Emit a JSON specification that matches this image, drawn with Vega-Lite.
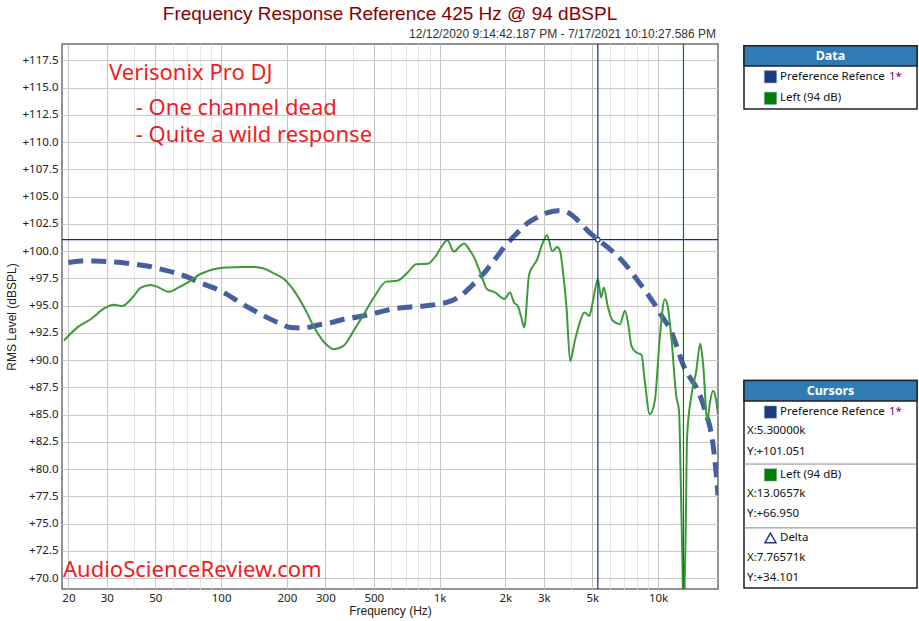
{
  "$schema": "https://vega.github.io/schema/vega-lite/v6.json",
  "background": "white",
  "padding": {"left": 4, "top": 4, "right": 0, "bottom": 0},
  "spacing": 23,
  "config": {"view": {"stroke": null}, "font": "Noto Sans", "axis": {"labelOverlap": false}},
  "datasets": {
    "ref": [
      {"f": 20, "db": 98.95}, {"f": 22.8, "db": 99.1}, {"f": 26, "db": 99.1}, {"f": 30, "db": 99.05},
      {"f": 35, "db": 98.95}, {"f": 40, "db": 98.8}, {"f": 46, "db": 98.64}, {"f": 53, "db": 98.34},
      {"f": 61, "db": 98.03}, {"f": 70, "db": 97.63}, {"f": 80, "db": 97.1}, {"f": 92, "db": 96.65},
      {"f": 106, "db": 96.05}, {"f": 122, "db": 95.28}, {"f": 140, "db": 94.6}, {"f": 157, "db": 94.06},
      {"f": 182, "db": 93.44}, {"f": 208, "db": 93.0}, {"f": 240, "db": 92.95}, {"f": 275, "db": 93.2},
      {"f": 318, "db": 93.44}, {"f": 364, "db": 93.75}, {"f": 420, "db": 93.96}, {"f": 484, "db": 94.21},
      {"f": 558, "db": 94.52}, {"f": 640, "db": 94.76}, {"f": 737, "db": 94.88}, {"f": 850, "db": 94.97},
      {"f": 980, "db": 95.13}, {"f": 1130, "db": 95.43}, {"f": 1250, "db": 95.9}, {"f": 1400, "db": 96.8},
      {"f": 1600, "db": 98.0}, {"f": 1800, "db": 99.3}, {"f": 2000, "db": 100.5}, {"f": 2250, "db": 101.6},
      {"f": 2500, "db": 102.5}, {"f": 2800, "db": 103.1}, {"f": 3100, "db": 103.5}, {"f": 3500, "db": 103.7},
      {"f": 3900, "db": 103.5}, {"f": 4300, "db": 102.8}, {"f": 4800, "db": 101.8}, {"f": 5300, "db": 101.05},
      {"f": 6000, "db": 100.2}, {"f": 7000, "db": 98.9}, {"f": 8060, "db": 97.3}, {"f": 9000, "db": 96.0},
      {"f": 9870, "db": 94.8}, {"f": 10500, "db": 93.9}, {"f": 11450, "db": 92.7}, {"f": 12200, "db": 91.2},
      {"f": 13000, "db": 89.6}, {"f": 14000, "db": 88.4}, {"f": 14950, "db": 87.5}, {"f": 15800, "db": 86.4},
      {"f": 16600, "db": 85.0}, {"f": 17300, "db": 83.8}, {"f": 17830, "db": 82.3}, {"f": 18400, "db": 79.8},
      {"f": 18800, "db": 77.6}
    ],
    "left": [
      {"f": 19.1, "db": 91.8}, {"f": 22.0, "db": 93.0}, {"f": 25.3, "db": 93.75}, {"f": 29.3, "db": 94.76},
      {"f": 32.4, "db": 95.07}, {"f": 35.3, "db": 94.97}, {"f": 39.3, "db": 95.74}, {"f": 42.9, "db": 96.65},
      {"f": 47.6, "db": 96.9}, {"f": 52.0, "db": 96.65}, {"f": 57.6, "db": 96.26}, {"f": 63.1, "db": 96.6},
      {"f": 70.2, "db": 97.1}, {"f": 80.5, "db": 97.9}, {"f": 92.4, "db": 98.34}, {"f": 107, "db": 98.5},
      {"f": 127, "db": 98.55}, {"f": 141, "db": 98.55}, {"f": 157, "db": 98.4}, {"f": 175, "db": 97.94},
      {"f": 195, "db": 97.4}, {"f": 216, "db": 96.35}, {"f": 240, "db": 94.82}, {"f": 267, "db": 93.0},
      {"f": 297, "db": 91.61}, {"f": 328, "db": 91.0}, {"f": 363, "db": 91.31}, {"f": 404, "db": 92.68},
      {"f": 450, "db": 94.21}, {"f": 500, "db": 95.74}, {"f": 570, "db": 97.2}, {"f": 640, "db": 97.27},
      {"f": 714, "db": 98.03}, {"f": 780, "db": 98.8}, {"f": 885, "db": 98.85}, {"f": 961, "db": 99.56},
      {"f": 1020, "db": 100.4}, {"f": 1085, "db": 101.0}, {"f": 1162, "db": 99.95}, {"f": 1244, "db": 100.48},
      {"f": 1295, "db": 100.69}, {"f": 1350, "db": 100.3}, {"f": 1440, "db": 99.4}, {"f": 1550, "db": 97.8},
      {"f": 1650, "db": 96.5}, {"f": 1800, "db": 96.2}, {"f": 1980, "db": 95.6}, {"f": 2100, "db": 96.2},
      {"f": 2190, "db": 95.28}, {"f": 2280, "db": 94.97}, {"f": 2360, "db": 94.0}, {"f": 2440, "db": 93.0},
      {"f": 2570, "db": 97.88}, {"f": 2800, "db": 99.26}, {"f": 2950, "db": 100.63}, {"f": 3100, "db": 101.46},
      {"f": 3280, "db": 100.0}, {"f": 3450, "db": 100.38}, {"f": 3560, "db": 100.0}, {"f": 3680, "db": 97.88},
      {"f": 3810, "db": 94.82}, {"f": 3960, "db": 89.9}, {"f": 4140, "db": 91.6}, {"f": 4360, "db": 93.3},
      {"f": 4600, "db": 94.36}, {"f": 4850, "db": 94.06}, {"f": 5020, "db": 95.28}, {"f": 5300, "db": 97.42},
      {"f": 5490, "db": 95.74}, {"f": 5640, "db": 96.65}, {"f": 5900, "db": 94.82}, {"f": 6200, "db": 93.6},
      {"f": 6690, "db": 93.3}, {"f": 7050, "db": 94.52}, {"f": 7300, "db": 93.3}, {"f": 7550, "db": 91.31},
      {"f": 7960, "db": 90.7}, {"f": 8400, "db": 90.48}, {"f": 8690, "db": 88.1}, {"f": 9160, "db": 85.04},
      {"f": 9660, "db": 86.26}, {"f": 10180, "db": 92.07}, {"f": 10730, "db": 95.59}, {"f": 11090, "db": 94.82},
      {"f": 11500, "db": 92.07}, {"f": 12130, "db": 86.57}, {"f": 12470, "db": 85.35}, {"f": 12670, "db": 79.84},
      {"f": 12940, "db": 70.7}, {"f": 13065.7, "db": 66.95}, {"f": 13360, "db": 73.7}, {"f": 13570, "db": 82.9},
      {"f": 14160, "db": 86.57}, {"f": 14950, "db": 89.0}, {"f": 15600, "db": 91.5}, {"f": 16070, "db": 89.63},
      {"f": 16810, "db": 84.43}, {"f": 17230, "db": 85.96}, {"f": 17830, "db": 87.18}, {"f": 18340, "db": 86.57},
      {"f": 18800, "db": 85.04}
    ],
    "cursors": [
      {"series": "Preference Refence", "f": 5300, "db": 101.051},
      {"series": "Left (94 dB)", "f": 13065.7, "db": 66.95}
    ],
    "notes": [
      {"f": 30.7, "db": 115.67, "text": "Verisonix Pro DJ"},
      {"f": 40.7, "db": 112.49, "text": "- One channel dead"},
      {"f": 40.7, "db": 109.97, "text": "- Quite a wild response"},
      {"f": 18.9, "db": 70.12, "text": "AudioScienceReview.com"}
    ],
    "stamp": [
      {"f": 18800, "db": 119.55, "text": "12/12/2020 9:14:42.187 PM - 7/17/2021 10:10:27.586 PM"}
    ],
    "boxes": [
      {"box": "Data", "top": 0.08, "head": 1.03, "bottom": 3.05},
      {"box": "Cursors", "top": 15.81, "head": 16.77, "bottom": 25.55}
    ],
    "seps": [{"slot": 19.73}, {"slot": 22.73}],
    "swatches": [
      {"series": "Preference Refence", "slot": 1.54},
      {"series": "Left (94 dB)", "slot": 2.55},
      {"series": "Preference Refence", "slot": 17.29},
      {"series": "Left (94 dB)", "slot": 20.24}
    ],
    "labels": [
      {"slot": 1.54, "text": "Preference Refence"},
      {"slot": 2.55, "text": "Left (94 dB)"},
      {"slot": 17.29, "text": "Preference Refence"},
      {"slot": 20.24, "text": "Left (94 dB)"},
      {"slot": 23.2, "text": "Delta"}
    ],
    "stars": [{"slot": 1.54, "text": "1*"}, {"slot": 17.29, "text": "1*"}],
    "values": [
      {"slot": 18.18, "text": "X:5.30000k"},
      {"slot": 19.16, "text": "Y:+101.051"},
      {"slot": 21.14, "text": "X:13.0657k"},
      {"slot": 22.08, "text": "Y:+66.950"},
      {"slot": 24.14, "text": "X:7.76571k"},
      {"slot": 25.08, "text": "Y:+34.101"}
    ],
    "delta": [{"slot": 23.2}]
  },
  "hconcat": [
    {
      "width": 656,
      "height": 545,
      "view": {"stroke": "#6e6e6e", "strokeWidth": 1.5},
      "title": {"text": "Frequency Response Reference 425 Hz @ 94 dBSPL", "color": "#850000", "font": "Liberation Sans", "fontSize": 19, "fontWeight": "normal", "anchor": "middle", "frame": "group", "offset": 4},
      "layer": [
        {
          "data": {"name": "ref"},
          "mark": {"type": "line", "strokeDash": [15, 8], "strokeWidth": 5, "color": "#46609f", "interpolate": "monotone", "clip": true},
          "encoding": {
            "x": {"field": "f", "type": "quantitative", "scale": {"type": "log", "domain": [18.7, 18800], "nice": false},
              "axis": {"title": "Frequency (Hz)",
                "values": [20,30,40,50,60,70,80,90,100,200,300,400,500,600,700,800,900,1000,2000,3000,4000,5000,6000,7000,8000,9000,10000],
                "tickCount": 40,
                "labelExpr": "indexof([20,30,50,100,200,300,500,1000,2000,3000,5000,10000], datum.value) < 0 ? '' : (datum.value >= 1000 ? (datum.value/1000) + 'k' : '' + datum.value)",
                "grid": true,
                "gridColor": {"condition": {"test": "indexof([20,30,50,100,200,300,500,1000,2000,3000,5000,10000], datum.value) >= 0", "value": "#c4c4c4"}, "value": "#e6e6e6"},
                "domain": false, "ticks": false, "labelFlush": false, "labelOverlap": false,
                "labelFont": "Noto Sans", "labelFontSize": 11.5, "labelColor": "#222", "labelPadding": 3,
                "titleFont": "Liberation Sans", "titleFontSize": 12, "titleFontWeight": "normal", "titleColor": "#222", "titlePadding": 2}},
            "y": {"field": "db", "type": "quantitative", "scale": {"domain": [69, 119], "nice": false, "zero": false},
              "axis": {"title": "RMS Level (dBSPL)",
                "values": [70,72.5,75,77.5,80,82.5,85,87.5,90,92.5,95,97.5,100,102.5,105,107.5,110,112.5,115,117.5],
                "tickCount": 40,
                "labelExpr": "'+' + format(datum.value, '.1f')",
                "grid": true, "gridColor": "#c8c8c8", "domain": false, "ticks": false, "labelOverlap": false,
                "labelFont": "Noto Sans", "labelFontSize": 11.5, "labelColor": "#222", "labelPadding": 4,
                "titleFont": "Liberation Sans", "titleFontSize": 12, "titleFontWeight": "normal", "titleColor": "#222", "titlePadding": 4}}
          }
        },
        {
          "data": {"name": "left"},
          "mark": {"type": "line", "strokeWidth": 2, "color": "#3b9b3b", "interpolate": "monotone", "clip": true},
          "encoding": {
            "x": {"field": "f", "type": "quantitative"},
            "y": {"field": "db", "type": "quantitative"}
          }
        },
        {
          "data": {"name": "cursors"},
          "transform": [{"filter": "datum.series == 'Preference Refence'"}],
          "mark": {"type": "rule", "strokeWidth": 1.2, "color": "#0d2d80"},
          "encoding": {
            "x": {"field": "f", "type": "quantitative"}
          }
        },
        {
          "data": {"name": "cursors"},
          "transform": [{"filter": "datum.series == 'Left (94 dB)'"}],
          "mark": {"type": "rule", "strokeWidth": 1.2, "color": "#008000"},
          "encoding": {
            "x": {"field": "f", "type": "quantitative"}
          }
        },
        {
          "data": {"name": "cursors"},
          "transform": [{"filter": "datum.series == 'Preference Refence'"}],
          "mark": {"type": "rule", "strokeWidth": 1.2, "color": "#0d2d80"},
          "encoding": {
            "y": {"field": "db", "type": "quantitative"}
          }
        },
        {
          "data": {"name": "cursors"},
          "transform": [{"filter": "datum.series == 'Preference Refence'"}],
          "mark": {"type": "point", "shape": "circle", "size": 22, "filled": true, "fill": "white", "stroke": "#0d2d80", "strokeWidth": 1.2, "opacity": 1},
          "encoding": {
            "x": {"field": "f", "type": "quantitative"},
            "y": {"field": "db", "type": "quantitative"}
          }
        },
        {
          "data": {"name": "notes"},
          "mark": {"type": "text", "align": "left", "baseline": "alphabetic", "font": "Noto Sans", "fontSize": 22, "color": "#ee1c25"},
          "encoding": {
            "x": {"field": "f", "type": "quantitative"},
            "y": {"field": "db", "type": "quantitative"},
            "text": {"field": "text"}
          }
        },
        {
          "data": {"name": "stamp"},
          "mark": {"type": "text", "align": "right", "baseline": "alphabetic", "font": "Liberation Sans", "fontSize": 12, "color": "#333", "dx": -2},
          "encoding": {
            "x": {"field": "f", "type": "quantitative"},
            "y": {"field": "db", "type": "quantitative"},
            "text": {"field": "text"}
          }
        }
      ]
    },
    {
      "width": 173,
      "height": 545,
      "view": {"stroke": null},
      "layer": [
        {
          "data": {"name": "boxes"},
          "mark": {"type": "rect", "fill": "white", "stroke": "#222", "strokeWidth": 1.5},
          "encoding": {
            "x": {"datum": 0, "type": "quantitative", "scale": {"domain": [0, 1], "nice": false, "zero": false}, "axis": null},
            "x2": {"datum": 1},
            "y": {"field": "top", "type": "quantitative", "scale": {"domain": [0, 25.6], "reverse": true, "nice": false, "zero": false}, "axis": null},
            "y2": {"field": "bottom"}
          }
        },
        {
          "data": {"name": "boxes"},
          "mark": {"type": "rect", "fill": "#2e7bb5", "stroke": "#222", "strokeWidth": 1.5},
          "encoding": {
            "x": {"datum": 0, "type": "quantitative"},
            "x2": {"datum": 1},
            "y": {"field": "top", "type": "quantitative"},
            "y2": {"field": "head"}
          }
        },
        {
          "data": {"name": "boxes"},
          "transform": [{"calculate": "(datum.top + datum.head) / 2", "as": "mid"}],
          "mark": {"type": "text", "align": "center", "baseline": "middle", "font": "Noto Sans", "fontSize": 12.5, "fontWeight": "bold", "color": "white"},
          "encoding": {
            "x": {"datum": 0.5, "type": "quantitative"},
            "y": {"field": "mid", "type": "quantitative"},
            "text": {"field": "box"}
          }
        },
        {
          "data": {"name": "seps"},
          "mark": {"type": "rule", "color": "#888", "strokeWidth": 1},
          "encoding": {
            "x": {"datum": 0, "type": "quantitative"},
            "x2": {"datum": 1},
            "y": {"field": "slot", "type": "quantitative"}
          }
        },
        {
          "data": {"name": "swatches"},
          "mark": {"type": "point", "shape": "square", "size": 150, "filled": true, "opacity": 1, "stroke": "#8090b0", "strokeWidth": 0.5},
          "encoding": {
            "x": {"datum": 0.153, "type": "quantitative"},
            "y": {"field": "slot", "type": "quantitative"},
            "color": {"field": "series", "type": "nominal", "scale": {"domain": ["Preference Refence", "Left (94 dB)"], "range": ["#1b3a82", "#008000"]}, "legend": null}
          }
        },
        {
          "data": {"name": "delta"},
          "mark": {"type": "point", "shape": "triangle-up", "size": 120, "filled": false, "stroke": "#1b3a82", "strokeWidth": 1.5, "opacity": 1},
          "encoding": {
            "x": {"datum": 0.153, "type": "quantitative"},
            "y": {"field": "slot", "type": "quantitative"}
          }
        },
        {
          "data": {"name": "labels"},
          "mark": {"type": "text", "align": "left", "baseline": "middle", "font": "Noto Sans", "fontSize": 11.5, "color": "#111"},
          "encoding": {
            "x": {"datum": 0.208, "type": "quantitative"},
            "y": {"field": "slot", "type": "quantitative"},
            "text": {"field": "text"}
          }
        },
        {
          "data": {"name": "stars"},
          "mark": {"type": "text", "align": "left", "baseline": "middle", "font": "Noto Sans", "fontSize": 11.5, "color": "#7a007a"},
          "encoding": {
            "x": {"datum": 0.838, "type": "quantitative"},
            "y": {"field": "slot", "type": "quantitative"},
            "text": {"field": "text"}
          }
        },
        {
          "data": {"name": "values"},
          "mark": {"type": "text", "align": "left", "baseline": "middle", "font": "Noto Sans", "fontSize": 11.5, "color": "#111"},
          "encoding": {
            "x": {"datum": 0.017, "type": "quantitative"},
            "y": {"field": "slot", "type": "quantitative"},
            "text": {"field": "text"}
          }
        }
      ]
    }
  ]
}
